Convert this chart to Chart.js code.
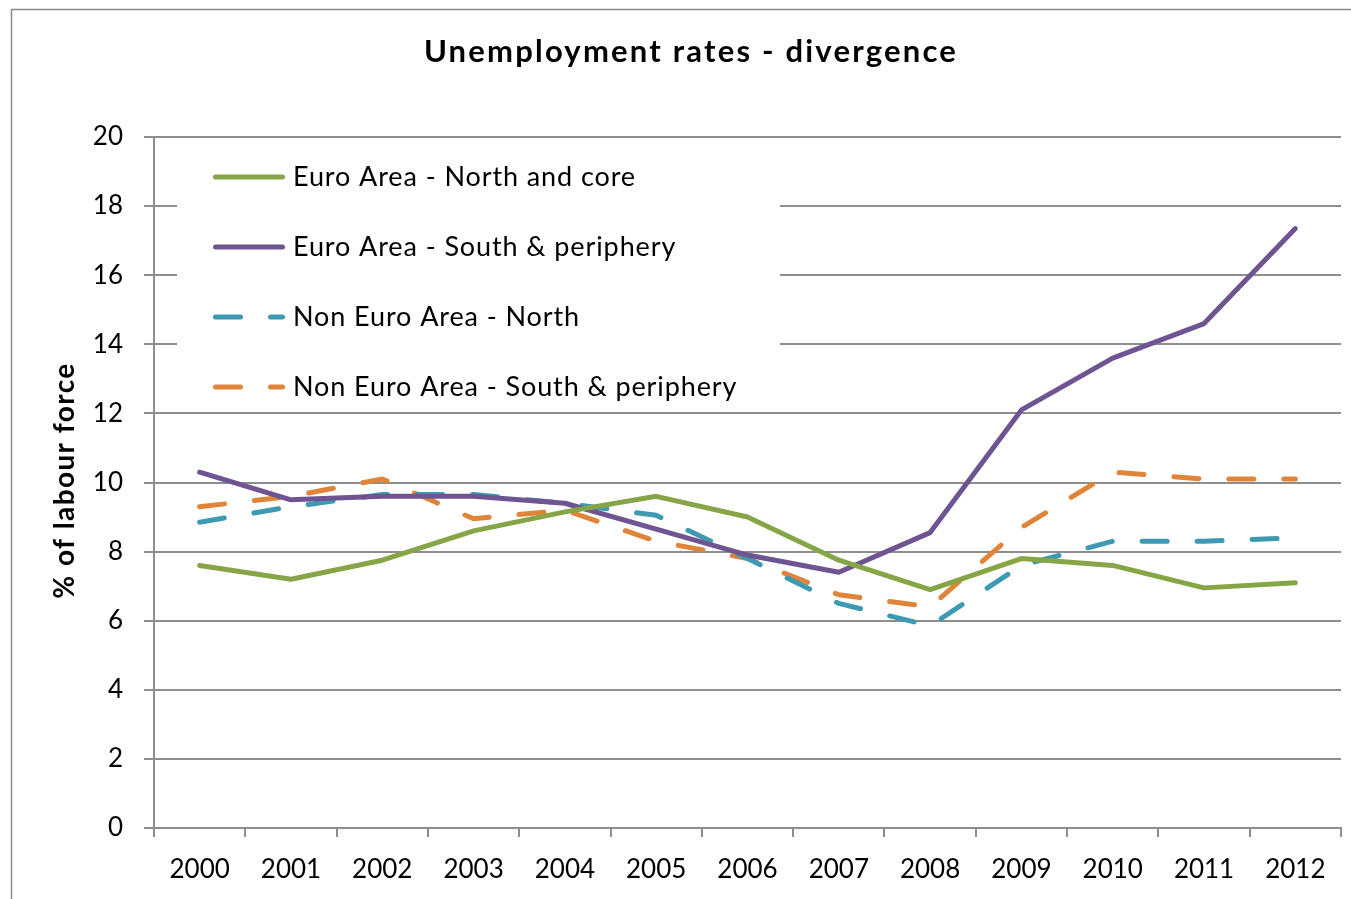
<!DOCTYPE html>
<html>
<head>
<meta charset="utf-8">
<script src="https://cdn.jsdelivr.net/npm/chart.js@4.4.1/dist/chart.umd.min.js"></script>
<style>
html,body{margin:0;padding:0;background:#fff;}
canvas{display:block;}
</style>
</head>
<body>
<canvas id="c" width="1351" height="899"></canvas>
<script>
const years = ['2000','2001','2002','2003','2004','2005','2006','2007','2008','2009','2010','2011','2012'];
const euroNorthCore = [7.6, 7.2, 7.75, 8.6, 9.15, 9.6, 9.0, 7.75, 6.9, 7.8, 7.6, 6.95, 7.1];
const euroSouthPeriphery = [10.3, 9.5, 9.6, 9.6, 9.4, 8.65, 7.9, 7.4, 8.55, 12.1, 13.6, 14.6, 17.35];
const nonEuroNorth = [8.85, 9.3, 9.65, 9.65, 9.4, 9.05, 7.8, 6.5, 5.85, 7.6, 8.3, 8.3, 8.4];
const nonEuroSouthPeriphery = [9.3, 9.6, 10.1, 8.95, 9.2, 8.3, 7.8, 6.75, 6.4, 8.7, 10.3, 10.1, 10.1];
const seriesNames = ['Euro Area - North and core', 'Euro Area - South & periphery', 'Non Euro Area - North', 'Non Euro Area - South & periphery'];
const yTicks = [0, 2, 4, 6, 8, 10, 12, 14, 16, 18, 20];
const chartTitle = 'Unemployment rates - divergence';
const yTitle = '% of labour force';

const FONT = 'Lato';
const GRID = '#8e8e8e';

const frame = {
  id: 'frame',
  beforeDraw(chart) {
    const ctx = chart.ctx;
    ctx.save();
    ctx.fillStyle = '#fff';
    ctx.fillRect(0, 0, chart.width, chart.height);
    ctx.strokeStyle = '#8a8a8a';
    ctx.lineWidth = 1.5;
    ctx.strokeRect(11.5, 9.5, chart.width + 20, chart.height + 20);
    ctx.restore();
  },
  afterDraw(chart) {
    const ctx = chart.ctx;
    const a = chart.chartArea;
    ctx.save();
    ctx.fillStyle = '#000';
    ctx.textBaseline = 'middle';
    ctx.textAlign = 'center';
    ctx.font = 'bold 31px ' + FONT;
    if ('letterSpacing' in ctx) ctx.letterSpacing = '2.2px';
    ctx.fillText(chartTitle, 691, 52);
    ctx.translate(65, (a.top + a.bottom) / 2 - 2);
    ctx.rotate(-Math.PI / 2);
    ctx.font = 'bold 28px ' + FONT;
    if ('letterSpacing' in ctx) ctx.letterSpacing = '1.4px';
    ctx.fillText(yTitle, 0, 0);
    ctx.restore();
    if ('letterSpacing' in ctx) ctx.letterSpacing = '0px';
  }
};

const insideLegend = {
  id: 'insideLegend',
  beforeDatasetsDraw(chart) {
    const ctx = chart.ctx;
    const a = chart.chartArea;
    ctx.save();
    ctx.fillStyle = '#fff';
    ctx.fillRect(a.left + 23, a.top + 12, 603, 262);
    chart.data.datasets.forEach((ds, i) => {
      const y = a.top + 40 + i * 70;
      ctx.beginPath();
      ctx.strokeStyle = ds.borderColor;
      ctx.lineWidth = ds.borderWidth;
      ctx.lineCap = 'round';
      ctx.setLineDash(ds.borderDash || []);
      ctx.moveTo(a.left + 61.5, y);
      ctx.lineTo(a.left + 128.5, y);
      ctx.stroke();
      ctx.setLineDash([]);
      ctx.fillStyle = '#000';
      ctx.font = '27px ' + FONT;
      if ('letterSpacing' in ctx) ctx.letterSpacing = '0.9px';
      ctx.textBaseline = 'middle';
      ctx.textAlign = 'left';
      ctx.fillText(ds.label, a.left + 139, y);
      if ('letterSpacing' in ctx) ctx.letterSpacing = '0px';
    });
    ctx.restore();
  }
};

const colors = ['#86a546', '#6e5490', '#3e9ab2', '#df8438'];
const dashes = [[], [], [25, 30], [25, 30]];
const allData = [euroNorthCore, euroSouthPeriphery, nonEuroNorth, nonEuroSouthPeriphery];

new Chart(document.getElementById('c'), {
  type: 'line',
  data: {
    labels: years,
    datasets: allData.map((d, i) => ({
      label: seriesNames[i],
      data: d,
      borderColor: colors[i],
      backgroundColor: colors[i],
      borderWidth: 5,
      borderDash: dashes[i],
      borderCapStyle: 'round',
      borderJoinStyle: 'round',
      pointRadius: 0,
      tension: 0,
      fill: false
    }))
  },
  options: {
    responsive: false,
    animation: false,
    layout: { padding: { left: 0, right: 10, top: 137, bottom: 0 } },
    plugins: {
      legend: { display: false },
      tooltip: { enabled: false },
      title: { display: false }
    },
    scales: {
      x: {
        type: 'category',
        offset: true,
        grid: { offset: true, drawOnChartArea: false, drawTicks: true, tickLength: 9, color: GRID, lineWidth: 2 },
        border: { color: GRID, width: 2 },
        ticks: { color: '#000', font: { family: FONT, size: 26 }, padding: 17, maxRotation: 0, autoSkip: false },
        afterFit(s) { s.height = 71; }
      },
      y: {
        min: 0,
        max: 20,
        afterBuildTicks(s) { s.ticks = yTicks.map(v => ({ value: v })); },
        grid: { color: GRID, lineWidth: 2, drawTicks: true, tickLength: 10 },
        border: { color: GRID, width: 2 },
        ticks: { color: '#000', font: { family: FONT, size: 26 }, padding: 21 },
        title: { display: false },
        afterFit(s) { s.width = 154; }
      }
    }
  },
  plugins: [frame, insideLegend]
});
</script>
</body>
</html>
